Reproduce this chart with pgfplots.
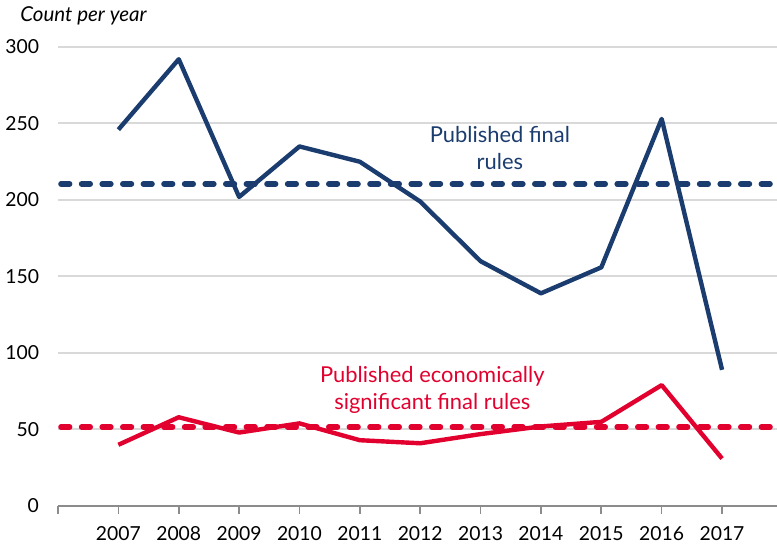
\documentclass[border=0pt]{standalone}
\usepackage{fontspec}
\setmainfont{Lato}
\usepackage{pgfplots}
\pgfplotsset{compat=1.18}
\definecolor{navy}{HTML}{1B3C6E}
\definecolor{crim}{HTML}{E1002E}
\definecolor{gridg}{HTML}{D9D9D9}
\definecolor{axg}{HTML}{8C8C8C}
\begin{document}
\begin{tikzpicture}
\begin{axis}[
  name=ax,
  scale only axis,
  width=359.5bp, height=229.5bp,
  xmin=2006, xmax=2017.91,
  ymin=0, ymax=300,
  ytick={0,50,...,300},
  xtick={2007,...,2017},
  extra x ticks={2006},
  extra x tick labels={},
  extra x tick style={grid=none},
  xticklabel style={/pgf/number format/1000 sep={}, yshift=-2.5bp},
  /pgf/number format/assume math mode=true,
  tick label style={font=\fontsize{9.7}{11}\selectfont, color=black},
  axis x line*=bottom,
  axis y line*=left,
  y axis line style={draw=none},
  ytick style={draw=none},
  yticklabel style={xshift=-2bp},
  x axis line style={draw=axg, line width=0.8bp, -},
  xtick style={draw=axg, line width=0.8bp},
  tick align=outside,
  major tick length=4bp,
  ymajorgrids=true,
  grid style={draw=gridg, line width=1bp},
  clip mode=individual,
]
\addplot[navy, line width=2.2bp, line join=round] coordinates {
 (2007,246) (2008,292) (2009,202) (2010,235) (2011,225) (2012,199)
 (2013,160) (2014,139) (2015,156) (2016,253) (2017,89)};
\addplot[crim, line width=2.2bp, line join=round] coordinates {
 (2007,40) (2008,58) (2009,48) (2010,54) (2011,43) (2012,41)
 (2013,47) (2014,52) (2015,55) (2016,79) (2017,31)};
\addplot[navy, line width=2.8bp, line cap=round, dash pattern=on 4.3bp off 6bp] coordinates {(2006.05,210.5) (2017.91,210.5)};
\addplot[crim, line width=2.8bp, line cap=round, dash pattern=on 4.3bp off 6bp] coordinates {(2006.05,51.6) (2017.91,51.6)};
\node[navy, align=center, font=\fontsize{11}{13.5}\selectfont] at (axis cs:2013.32,234) {Published final\\rules};
\node[crim, align=center, font=\fontsize{11}{13.5}\selectfont] at (axis cs:2012.2,75.8) {Published economically\\significant final rules};
\node[anchor=west, font=\itshape\fontsize{10.3}{12}\selectfont, inner sep=0pt] at ([xshift=-19bp,yshift=15.5bp]axis cs:2006,300) {Count per year};
\end{axis}
\pgfresetboundingbox
\path[use as bounding box] ([shift={(-29bp,-20.5bp)}]ax.south west) rectangle ([shift={(0,23.5bp)}]ax.north east);
\end{tikzpicture}
\end{document}
